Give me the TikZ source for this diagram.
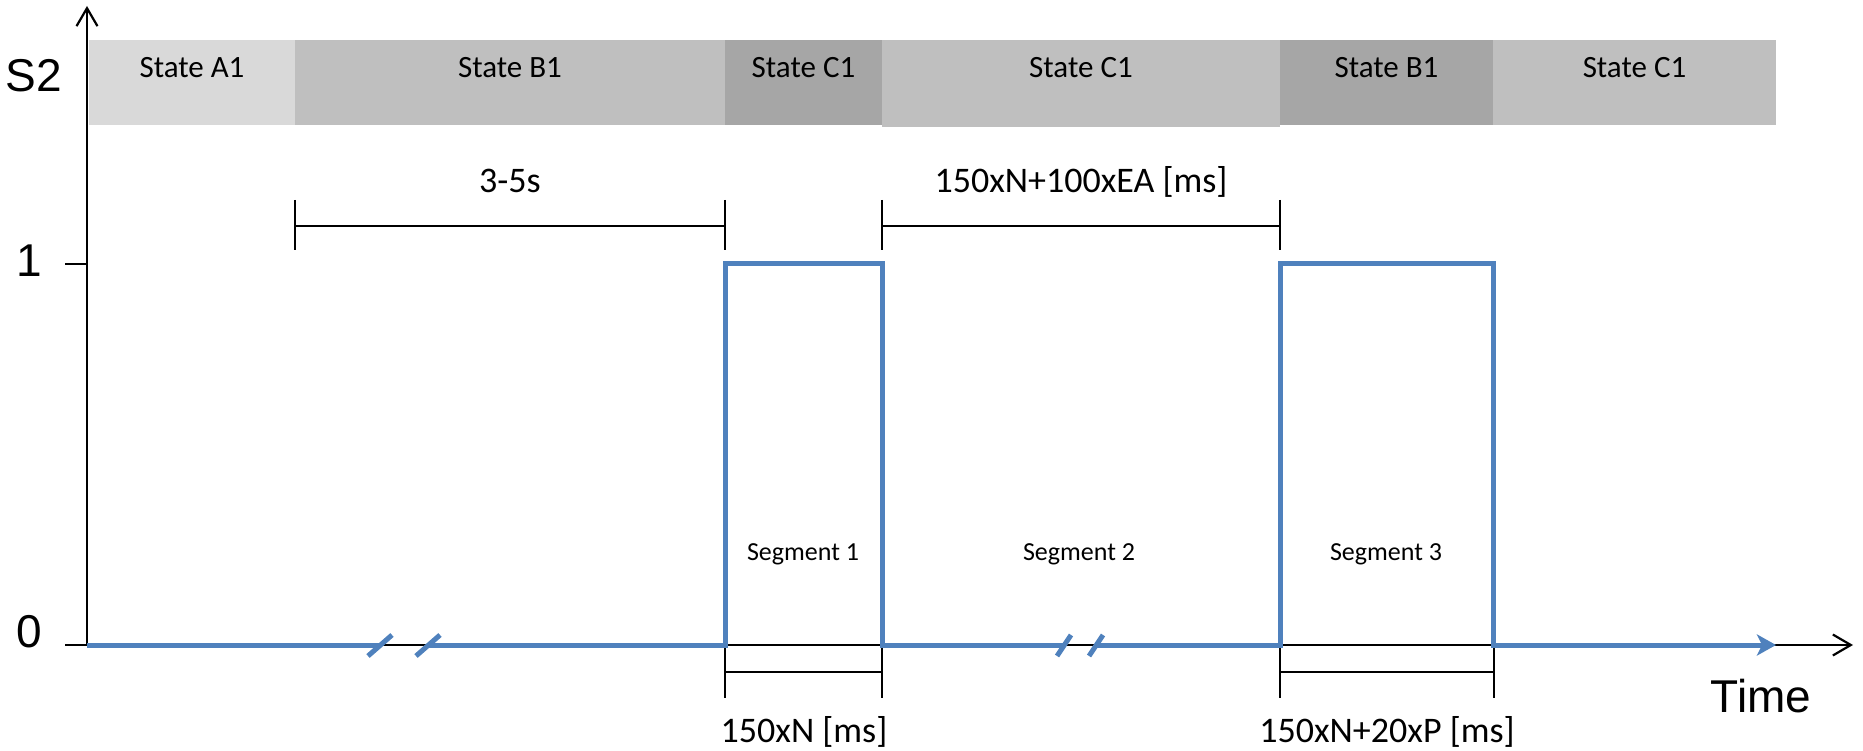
\documentclass[tikz,border=0pt]{standalone}
\usepackage{fontspec}
\setmainfont{Carlito}
\newfontfamily\arialf{Liberation Sans}
\usetikzlibrary{arrows.meta}
\definecolor{sigblue}{HTML}{4F81BD}
\definecolor{grayA}{HTML}{D9D9D9}
\definecolor{grayB}{HTML}{BFBFBF}
\definecolor{grayC}{HTML}{A6A6A6}
\begin{document}
\begin{tikzpicture}[x=1pt,y=-1pt,
  axisline/.style={line width=2.2pt, black},
  dimline/.style={line width=1.6pt, black},
  signal/.style={line width=5pt, sigblue, line join=miter},
  brk/.style={line width=5pt, sigblue},
  statelbl/.style={font=\fontsize{31}{31}\selectfont, anchor=base, inner sep=0pt},
  dimlbl/.style={font=\fontsize{36}{36}\selectfont, anchor=base, inner sep=0pt},
  seglbl/.style={font=\fontsize{26}{26}\selectfont, anchor=base, inner sep=0pt},
  axlbl/.style={font=\arialf\fontsize{46}{46}\selectfont, anchor=base, inner sep=0pt},
]
\useasboundingbox (0,0) rectangle (1863,751);

% state bands
\fill[grayA] (89,40) rectangle (295,125);
\fill[grayB] (295,40) rectangle (725,125);
\fill[grayC] (725,40) rectangle (882,125);
\fill[grayB] (882,40) rectangle (1280,127);
\fill[grayC] (1280,40) rectangle (1493,125);
\fill[grayB] (1493,40) rectangle (1776,125);
\node[statelbl] (sa1) at (192,78) {State A1};
\node[statelbl] (sb1) at (510,78) {State B1};
\node[statelbl] (sc1) at (803.5,78) {State C1};
\node[statelbl] (sc2) at (1081,78) {State C1};
\node[statelbl] (sb2) at (1386.5,78) {State B1};
\node[statelbl] (sc3) at (1634.5,78) {State C1};

% axes
\coordinate (O) at (87,645);
\coordinate (ytop) at (87,6);
\coordinate (xend) at (1853,645);
\draw[axisline, -{Straight Barb[length=18pt,width=21pt]}] (O) -- (ytop);
\draw[axisline, -{Straight Barb[length=18pt,width=21pt]}] (O) -- (xend);
\draw[axisline] (65,264) -- (87,264);
\draw[axisline] (65,645) -- (87,645);
\node[axlbl] (s2) at (34,92) {S2};
\node[axlbl] (one) at (29,277) {1};
\node[axlbl] (zero) at (29,647) {0};
\node[axlbl] (time) at (1761,712) {Time};

% top dimensions
\draw[dimline] (295,200) -- (295,250);
\draw[dimline] (725,200) -- (725,250);
\draw[dimline] (295,226) -- (725,226);
\node[dimlbl] (d1) at (510,193) {3-5s};
\draw[dimline] (882,200) -- (882,250);
\draw[dimline] (1280,200) -- (1280,250);
\draw[dimline] (882,226) -- (1280,226);
\node[dimlbl] (d2) at (1081,193) {150xN+100xEA [ms]};

% bottom dimensions
\draw[dimline] (725,645) -- (725,698);
\draw[dimline] (882,645) -- (882,698);
\draw[dimline] (725,672) -- (882,672);
\node[dimlbl] (d3) at (804,742) {150xN [ms]};
\draw[dimline] (1280,645) -- (1280,698);
\draw[dimline] (1494,645) -- (1494,698);
\draw[dimline] (1280,672) -- (1494,672);
\node[dimlbl] (d4) at (1387,742) {150xN+20xP [ms]};

% segment labels
\node[seglbl] (seg1) at (803,560) {Segment 1};
\node[seglbl] (seg2) at (1079,560) {Segment 2};
\node[seglbl] (seg3) at (1386,560) {Segment 3};

% signal
\draw[signal] (87,645) -- (380,645);
\draw[signal] (428,645) -- (725,645) -- (725,264) -- (882,264) -- (882,645) -- (1064,645);
\draw[signal, -{Stealth[length=19pt,width=21pt,inset=5pt]}] (1096,645) -- (1280,645) -- (1280,264) -- (1493,264) -- (1493,645) -- (1776,645);
% break marks
\draw[brk] (368,656) -- (392,635);
\draw[brk] (416,656) -- (440,635);
\draw[brk] (1057,656) -- (1071,635);
\draw[brk] (1089,656) -- (1103,635);
\end{tikzpicture}
\end{document}
